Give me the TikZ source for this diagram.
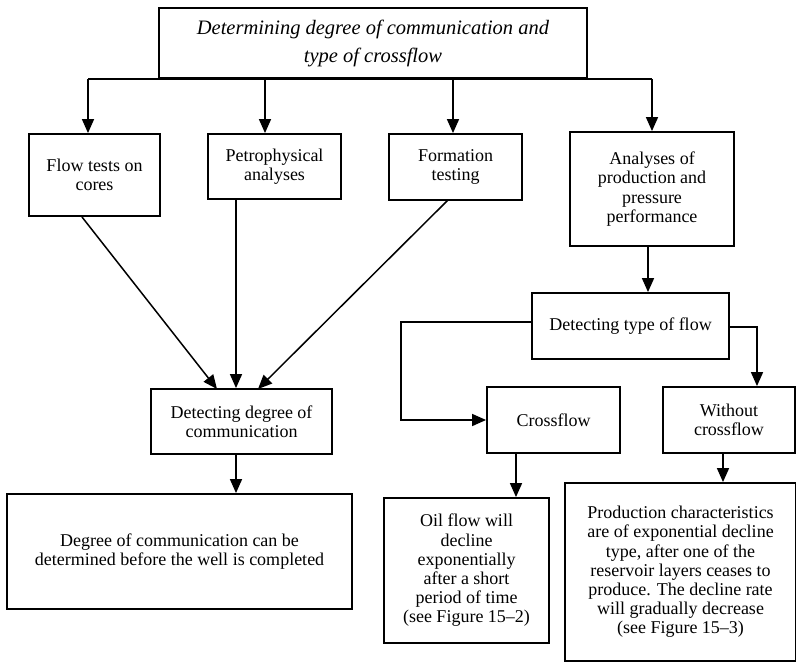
\documentclass[tikz,border=0pt]{standalone}
\usepackage{fontspec}
\setmainfont{Liberation Serif}
\usetikzlibrary{arrows.meta}
\begin{document}
\begin{tikzpicture}[x=1pt,y=-1pt,
  box/.style={draw,line width=1.8pt,align=center,inner sep=2pt,
    font=\fontsize{18}{19.2}\selectfont},
  arr/.style={line width=1.5pt,-{Triangle[width=12pt,length=14pt]}},
  link/.style={line width=1.5pt}]
\useasboundingbox (0,0) rectangle (796,663);

% main heading box
\node[box,minimum width=428,minimum height=70,font=\fontsize{20.5}{28}\selectfont\itshape]
  (top) at (373,43) {Determining degree of communication and\\type of crossflow};

% first row of methods
\node[box,minimum width=131,minimum height=82] (flow)  at (94.5,175)  {Flow tests on\\cores};
\node[box,minimum width=133,minimum height=65] (petro) at (274.5,166.5) {Petrophysical\\analyses};
\node[box,minimum width=133,minimum height=66] (form)  at (455.5,167)  {Formation\\testing};
\node[box,minimum width=164,minimum height=114] (anal) at (652,189)   {Analyses of\\production and\\pressure\\performance};

% communication branch
\node[box,minimum width=181,minimum height=65] (ddeg)   at (241.5,421.5) {Detecting degree of\\communication};
\node[box,minimum width=345,minimum height=115] (degree) at (179.5,551.5)
  {Degree of communication can be\\determined before the well is completed};

% crossflow branch
\node[box,minimum width=197,minimum height=66] (dtype)   at (630.5,326) {Detecting type of flow};
\node[box,minimum width=133,minimum height=66] (cross)   at (553.5,420) {Crossflow};
\node[box,minimum width=132,minimum height=66] (without) at (729,420)   {Without\\crossflow};
\node[box,minimum width=165,minimum height=145] (oil)    at (466.5,570.5)
  {Oil flow will\\decline\\exponentially\\after a short\\period of time\\(see Figure 15--2)};
\node[box,minimum width=231,minimum height=178] (prod)   at (680.5,572)
  {Production characteristics\\are of exponential decline\\type, after one of the\\reservoir layers ceases to\\produce. The decline rate\\will gradually decrease\\(see Figure 15--3)};

% distribution bar under the heading
\coordinate (b1) at (88,79);
\coordinate (b2) at (265,79);
\coordinate (b3) at (453,79);
\coordinate (b4) at (652,79);
\draw[link] (b1) -- (b4);
\draw[arr] (b1) -- (b1 |- flow.north);
\draw[arr] (b2) -- (b2 |- petro.north);
\draw[arr] (b3) -- (b3 |- form.north);
\draw[arr] (b4) -- (b4 |- anal.north);

% converging arrows
\coordinate (f0) at (82,217);
\coordinate (f1) at (217,389);
\coordinate (p0) at (236,199);
\coordinate (g0) at (448,200);
\coordinate (g1) at (258,389);
\draw[arr] (f0) -- (f1);
\draw[arr] (p0) -- (p0 |- ddeg.north);
\draw[arr] (g0) -- (g1);
\draw[arr] (p0 |- ddeg.south) -- (p0 |- degree.north);

% type of flow
\coordinate (a0) at (648,246);
\draw[arr] (a0 |- anal.south) -- (a0 |- dtype.north);
\coordinate (bl) at (401,322);
\draw[arr] (dtype.west |- bl) -- (bl) |- (cross.west);
\coordinate (br) at (757,327);
\draw[arr] (dtype.east |- br) -- (br) -- (br |- without.north);
\coordinate (c0) at (516,453);
\draw[arr] (c0 |- cross.south) -- (c0 |- oil.north);
\coordinate (w0) at (723,453);
\draw[arr] (w0 |- without.south) -- (w0 |- prod.north);
\end{tikzpicture}
\end{document}
